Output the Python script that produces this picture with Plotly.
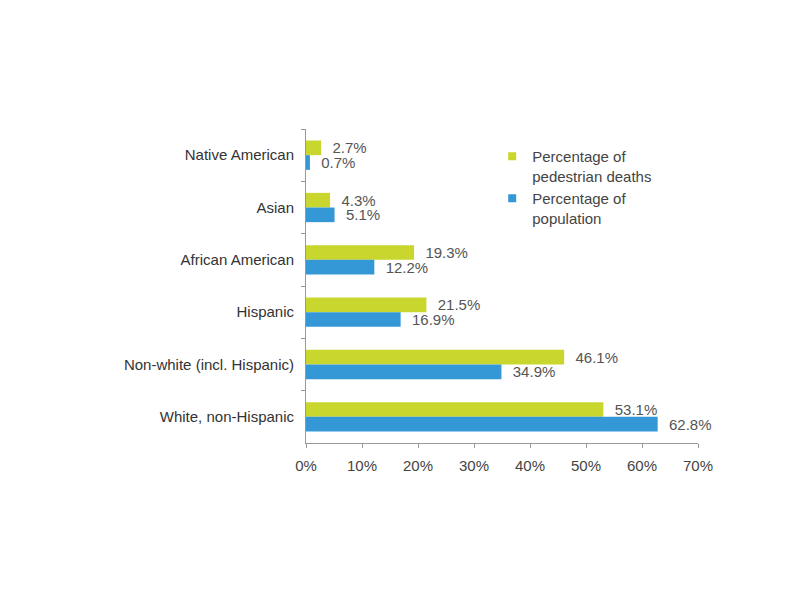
import plotly.graph_objects as go

categories = ["Native American", "Asian", "African American", "Hispanic",
              "Non-white (incl. Hispanic)", "White, non-Hispanic"]
deaths = [2.7, 4.3, 19.3, 21.5, 46.1, 53.1]
population = [0.7, 5.1, 12.2, 16.9, 34.9, 62.8]
series_names = ["Percentage of<br>pedestrian deaths", "Percentage of<br>population"]
series_colors = ["#C8D62E", "#3598D6"]
x_ticks = [0, 10, 20, 30, 40, 50, 60, 70]
x_tick_labels = ["0%", "10%", "20%", "30%", "40%", "50%", "60%", "70%"]

FONT = "Liberation Sans, Arial, sans-serif"

fig = go.Figure()
for vals, name, color in zip([deaths, population], series_names, series_colors):
    fig.add_trace(go.Bar(
        y=categories, x=vals, orientation="h", name=name, showlegend=False,
        marker=dict(color=color, line=dict(width=0)),
        texttemplate="  %{x:.1f}%", textposition="outside", constraintext="none",
        cliponaxis=False,
        textfont=dict(color="#555555", size=15, family=FONT),
    ))
# legend entries with small square markers
for name, color in zip(series_names, series_colors):
    fig.add_trace(go.Scatter(
        x=[None], y=[None], mode="markers", name=name,
        marker=dict(symbol="square", size=8, color=color),
    ))

# page body has an 8px margin; compensate so the plot area lands where the reference has it
fig.update_layout(
    width=792, height=592,
    paper_bgcolor="white", plot_bgcolor="white",
    margin=dict(l=298, r=102, t=121, b=157, autoexpand=False),
    barmode="group", bargap=0.44, bargroupgap=0,
    font=dict(family=FONT, size=15, color="#333333"),
    legend=dict(x=0.475, y=0.965, xanchor="left", yanchor="top", valign="top",
                font=dict(size=15, color="#444444"), itemwidth=30,
                bgcolor="rgba(0,0,0,0)"),
    xaxis=dict(range=[0, 70], tickvals=x_ticks, ticktext=x_tick_labels,
               automargin=False,
               showgrid=False, zeroline=False, showline=True, linecolor="#999999",
               linewidth=1, ticks="outside", ticklen=4, tickcolor="#999999",
               ticklabelstandoff=5,
               tickfont=dict(size=15, color="#444444")),
    yaxis=dict(autorange="reversed", showgrid=False, zeroline=False,
               automargin=False,
               showline=True, linecolor="#999999", linewidth=1,
               ticks="outside", tickson="boundaries", ticklen=4, tickcolor="#999999",
               ticklabelstandoff=8,
               tickfont=dict(size=15, color="#333333")),
)

fig.write_html("out.html")
